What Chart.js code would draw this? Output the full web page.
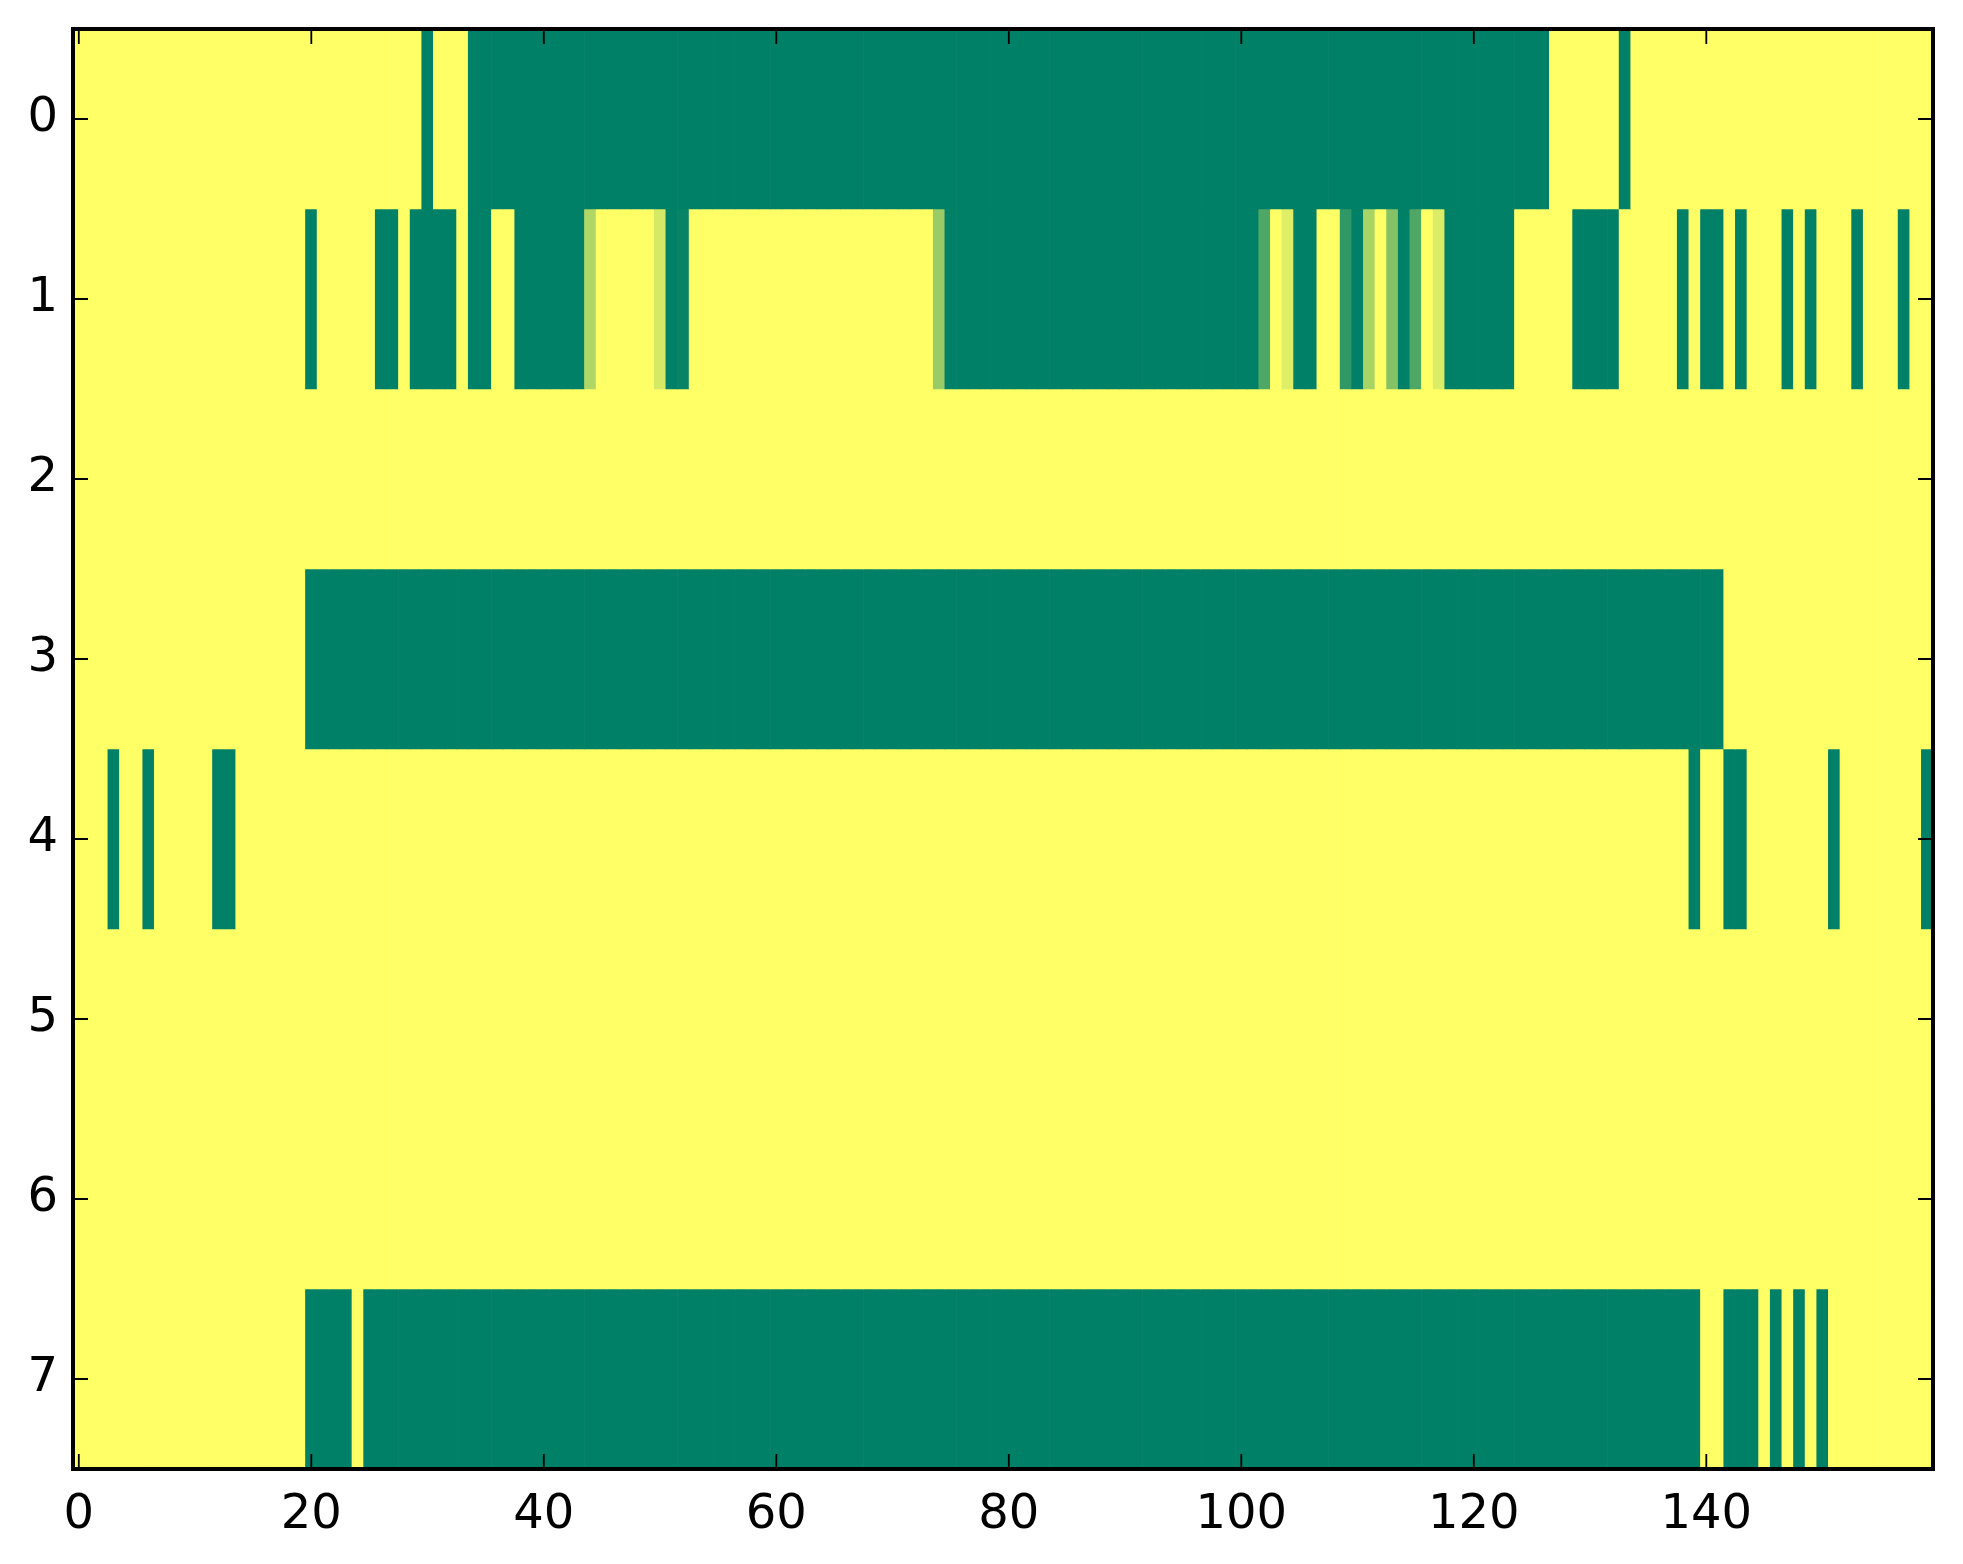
<!DOCTYPE html>
<html>
<head>
<meta charset="utf-8">
<script src="https://cdn.jsdelivr.net/npm/chart.js@4/dist/chart.umd.min.js"></script>
<style>
  html, body { margin: 0; padding: 0; background: #fff; }
  canvas { display: block; }
</style>
</head>
<body>
<canvas id="chart-area" width="1963" height="1564"></canvas>
<script>
(function () {
  'use strict';

  // column indices 0..159 and the tick labels
  var columns = Array.from({ length: 160 }, function (_, i) { return i; });
  var xTicks = [0, 20, 40, 60, 80, 100, 120, 140];
  var yTicks = [0, 1, 2, 3, 4, 5, 6, 7];

  // cell values per row (0 = green, 1 = yellow)
  var row0 = [
    1,1,1,1,1,1,1,1,1,1,1,1,1,1,1,1,1,1,1,1,
    1,1,1,1,1,1,1,1,1,1,0,1,1,1,0,0,0,0,0,0,
    0,0,0,0,0,0,0,0,0,0,0,0,0,0,0,0,0,0,0,0,
    0,0,0,0,0,0,0,0,0,0,0,0,0,0,0,0,0,0,0,0,
    0,0,0,0,0,0,0,0,0,0,0,0,0,0,0,0,0,0,0,0,
    0,0,0,0,0,0,0,0,0,0,0,0,0,0,0,0,0,0,0,0,
    0,0,0,0,0,0,0,1,1,1,1,1,1,0,1,1,1,1,1,1,
    1,1,1,1,1,1,1,1,1,1,1,1,1,1,1,1,1,1,1,1
  ];
  var row1 = [
    1,1,1,1,1,1,1,1,1,1,1,1,1,1,1,1,1,1,1,1,
    0,1,1,1,1,1,0,0,1,0,0,0,0,1,0,0,1,1,0,0,
    0,0,0,0,0.69,1,1,1,1,1,0.83,0,0.03,1,1,1,1,1,1,1,
    1,1,1,1,1,1,1,1,1,1,1,1,1,1,0.6,0,0,0,0,0,
    0,0,0,0,0,0,0,0,0,0,0,0,0,0,0,0,0,0,0,0,
    0,0,0.31,1,0.87,0,0,1,1,0.19,0,0.66,1,0.52,0,0.31,1,0.86,0,0,
    0,0,0,0,1,1,1,1,1,0,0,0,0,1,1,1,1,1,0,1,
    0,0,1,0,1,1,1,0,1,0,1,1,1,0,1,1,1,0,1,1
  ];
  var row2 = [
    1,1,1,1,1,1,1,1,1,1,1,1,1,1,1,1,1,1,1,1,
    1,1,1,1,1,1,1,1,1,1,1,1,1,1,1,1,1,1,1,1,
    1,1,1,1,1,1,1,1,1,1,1,1,1,1,1,1,1,1,1,1,
    1,1,1,1,1,1,1,1,1,1,1,1,1,1,1,1,1,1,1,1,
    1,1,1,1,1,1,1,1,1,1,1,1,1,1,1,1,1,1,1,1,
    1,1,1,1,1,1,1,1,1,1,1,1,1,1,1,1,1,1,1,1,
    1,1,1,1,1,1,1,1,1,1,1,1,1,1,1,1,1,1,1,1,
    1,1,1,1,1,1,1,1,1,1,1,1,1,1,1,1,1,1,1,1
  ];
  var row3 = [
    1,1,1,1,1,1,1,1,1,1,1,1,1,1,1,1,1,1,1,1,
    0,0,0,0,0,0,0,0,0,0,0,0,0,0,0,0,0,0,0,0,
    0,0,0,0,0,0,0,0,0,0,0,0,0,0,0,0,0,0,0,0,
    0,0,0,0,0,0,0,0,0,0,0,0,0,0,0,0,0,0,0,0,
    0,0,0,0,0,0,0,0,0,0,0,0,0,0,0,0,0,0,0,0,
    0,0,0,0,0,0,0,0,0,0,0,0,0,0,0,0,0,0,0,0,
    0,0,0,0,0,0,0,0,0,0,0,0,0,0,0,0,0,0,0,0,
    0,0,1,1,1,1,1,1,1,1,1,1,1,1,1,1,1,1,1,1
  ];
  var row4 = [
    1,1,1,0,1,1,0,1,1,1,1,1,0,0,1,1,1,1,1,1,
    1,1,1,1,1,1,1,1,1,1,1,1,1,1,1,1,1,1,1,1,
    1,1,1,1,1,1,1,1,1,1,1,1,1,1,1,1,1,1,1,1,
    1,1,1,1,1,1,1,1,1,1,1,1,1,1,1,1,1,1,1,1,
    1,1,1,1,1,1,1,1,1,1,1,1,1,1,1,1,1,1,1,1,
    1,1,1,1,1,1,1,1,1,1,1,1,1,1,1,1,1,1,1,1,
    1,1,1,1,1,1,1,1,1,1,1,1,1,1,1,1,1,1,1,0,
    1,1,0,0,1,1,1,1,1,1,1,0,1,1,1,1,1,1,1,0
  ];
  var row5 = row2.slice();
  var row6 = row2.slice();
  var row7 = [
    1,1,1,1,1,1,1,1,1,1,1,1,1,1,1,1,1,1,1,1,
    0,0,0,0,1,0,0,0,0,0,0,0,0,0,0,0,0,0,0,0,
    0,0,0,0,0,0,0,0,0,0,0,0,0,0,0,0,0,0,0,0,
    0,0,0,0,0,0,0,0,0,0,0,0,0,0,0,0,0,0,0,0,
    0,0,0,0,0,0,0,0,0,0,0,0,0,0,0,0,0,0,0,0,
    0,0,0,0,0,0,0,0,0,0,0,0,0,0,0,0,0,0,0,0,
    0,0,0,0,0,0,0,0,0,0,0,0,0,0,0,0,0,0,0,0,
    1,1,0,0,0,1,0,1,0,1,0,1,1,1,1,1,1,1,1,1
  ];
  var rows = [row0, row1, row2, row3, row4, row5, row6, row7];

  var labelFont = { family: 'DejaVu Sans', size: 48 };

  // matplotlib "summer" colour map
  function summer(v) {
    return 'rgb(' + Math.round(255 * v) + ',' + Math.round(255 * (0.5 + 0.5 * v)) + ',102)';
  }

  var datasets = rows.map(function (vals, r) {
    return {
      data: vals.map(function (v, i) { return { x: columns[i], y: [r - 0.5, r + 0.5] }; }),
      backgroundColor: vals.map(summer),
      borderWidth: 0,
      grouped: false,
      barPercentage: 1,
      categoryPercentage: 1
    };
  });

  // frame plus inward ticks on all four sides
  var frameTicks = {
    id: 'frameTicks',
    afterDatasetsDraw: function (chart) {
      var ctx = chart.ctx, a = chart.chartArea;
      var xs = chart.scales.x, ys = chart.scales.y;
      ctx.save();
      ctx.strokeStyle = '#000';
      ctx.lineWidth = 1.8;
      ctx.beginPath();
      xTicks.forEach(function (v) {
        var px = xs.getPixelForValue(v);
        ctx.moveTo(px, a.bottom); ctx.lineTo(px, a.bottom - 15);
        ctx.moveTo(px, a.top); ctx.lineTo(px, a.top + 15);
      });
      yTicks.forEach(function (v) {
        var py = ys.getPixelForValue(v);
        ctx.moveTo(a.left, py); ctx.lineTo(a.left + 15, py);
        ctx.moveTo(a.right, py); ctx.lineTo(a.right - 15, py);
      });
      ctx.stroke();
      ctx.lineWidth = 4;
      ctx.strokeRect(a.left, a.top, a.right - a.left, a.bottom - a.top);
      ctx.restore();
    }
  };

  // fixed axis sizes so the plot box lands where the reference has it
  function noPad(scale) {
    scale.paddingTop = 0;
    scale.paddingBottom = 0;
    scale.paddingLeft = 0;
    scale.paddingRight = 0;
  }

  var ctx = document.getElementById('chart-area').getContext('2d');
  window.heatChart = new Chart(ctx, {
    type: 'bar',
    data: { datasets: datasets },
    options: {
      responsive: false,
      animation: false,
      devicePixelRatio: 1,
      layout: { padding: { top: 29, right: 30, left: 0, bottom: 0 } },
      plugins: { legend: { display: false }, tooltip: { enabled: false } },
      scales: {
        x: {
          type: 'linear',
          min: -0.5,
          max: 159.5,
          offset: false,
          grid: { display: false },
          border: { display: false },
          ticks: { font: labelFont, color: '#000', padding: 10, maxRotation: 0 },
          afterBuildTicks: function (axis) {
            axis.ticks = xTicks.map(function (v) { return { value: v }; });
          },
          afterFit: function (scale) { scale.height = 95; noPad(scale); }
        },
        y: {
          type: 'linear',
          reverse: true,
          min: -0.5,
          max: 7.5,
          grid: { display: false },
          border: { display: false },
          ticks: { font: labelFont, color: '#000', padding: 7 },
          afterBuildTicks: function (axis) {
            axis.ticks = yTicks.map(function (v) { return { value: v }; });
          },
          afterFit: function (scale) { scale.width = 73; noPad(scale); }
        }
      }
    },
    plugins: [frameTicks]
  });
})();
</script>
</body>
</html>
